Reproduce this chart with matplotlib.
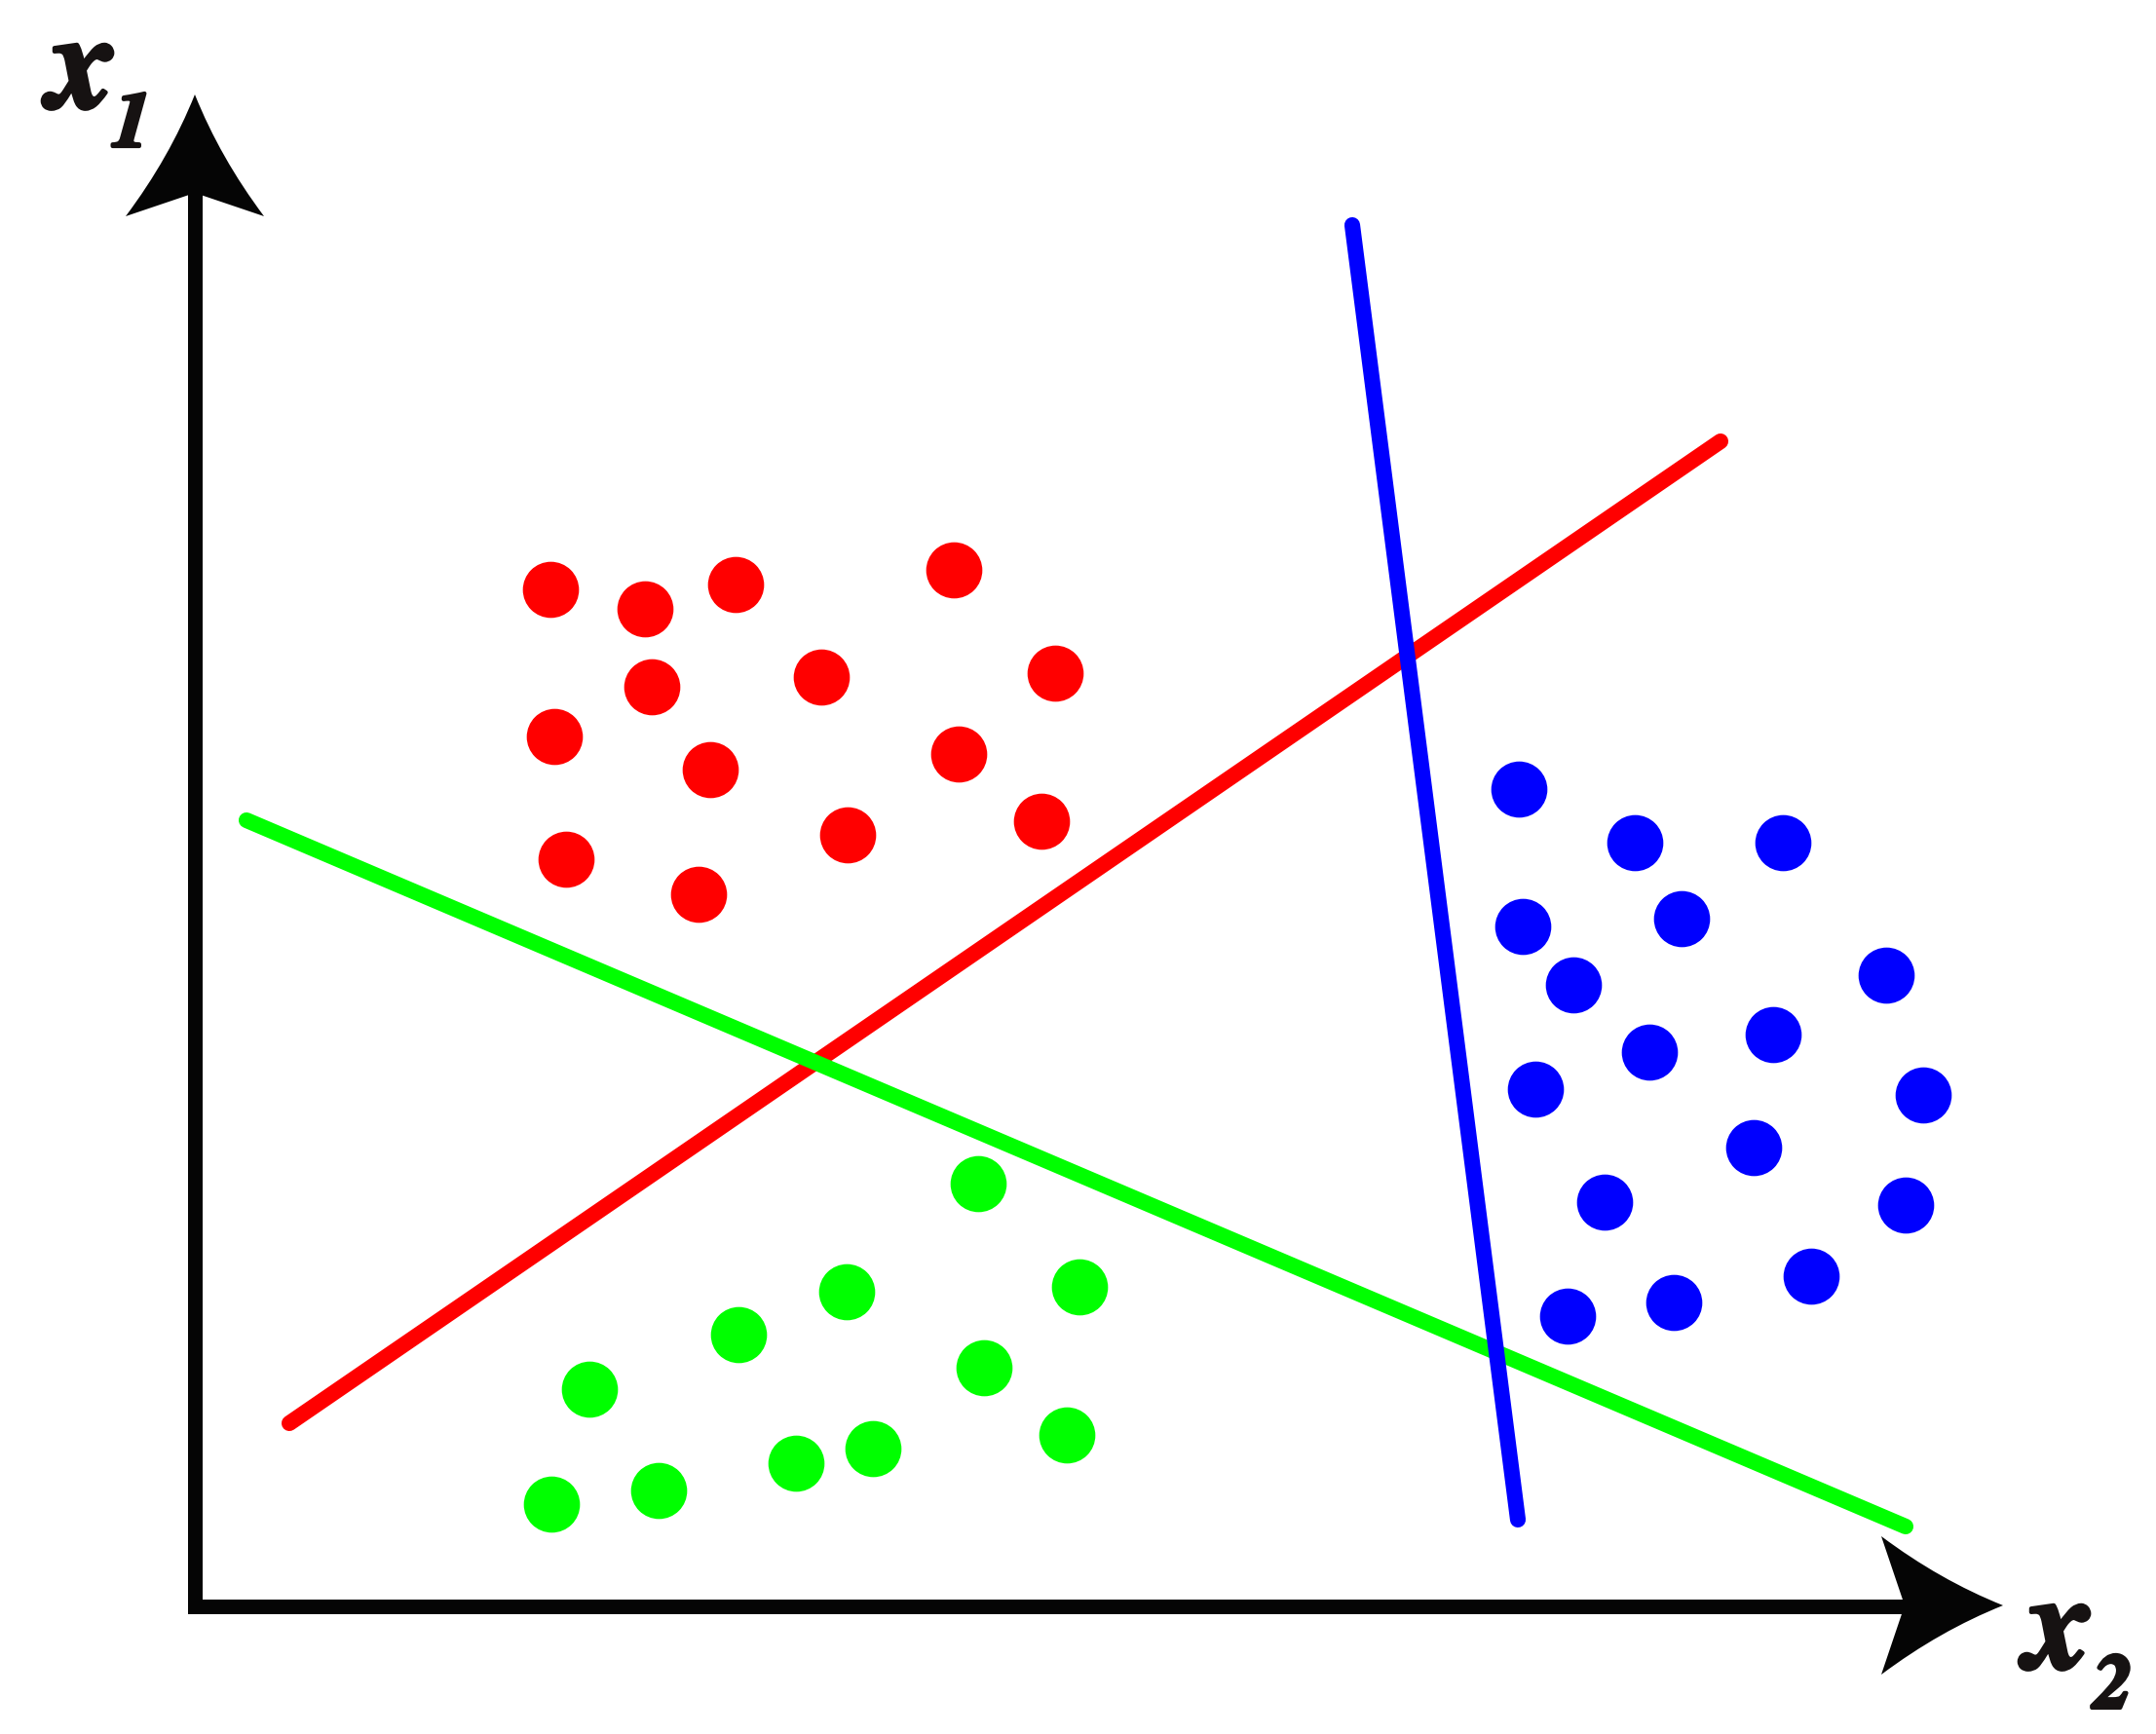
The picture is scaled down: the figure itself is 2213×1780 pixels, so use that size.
import matplotlib
matplotlib.use("Agg")
import matplotlib.pyplot as plt
import matplotlib.patheffects as pe
import numpy as np
from matplotlib.path import Path
from matplotlib.patches import PathPatch

# point positions (pixel space, y goes down)
red_x = [565, 662, 755, 979, 669, 843, 1083, 569, 729, 984, 581, 870, 1069, 717]
red_y = [606, 626, 601, 586, 706, 696, 692, 757, 791, 775, 883, 858, 844, 919]

blue_x = [1559, 1678, 1830, 1563, 1726, 1615, 1936, 1693, 1820, 1576, 1974, 1800, 1647, 1956, 1859, 1609, 1718]
blue_y = [811, 866, 866, 952, 944, 1012, 1002, 1081, 1063, 1119, 1125, 1179, 1235, 1238, 1311, 1352, 1338]

green_x = [1004, 869, 1108, 758, 1010, 605, 896, 1095, 817, 676, 566]
green_y = [1216, 1327, 1322, 1371, 1405, 1427, 1488, 1474, 1503, 1531, 1545]

# the three separating lines (start, end)
red_line_x = [297, 1766]
red_line_y = [1462, 454]
green_line_x = [253, 1956]
green_line_y = [843, 1568]
blue_line_x = [1388, 1558]
blue_line_y = [232, 1561]

W, H = 2213, 1781
fig = plt.figure(figsize=(W / 100, H / 100), dpi=100)
ax = fig.add_axes([0, 0, 1, 1])
ax.set_xlim(0, W)
ax.set_ylim(H, 0)
ax.axis("off")

ms = 41.5  # dot diameter in points (~58 px)
ax.plot(red_x, red_y, "o", color="#ff0000", ms=ms, mew=0)
ax.plot(blue_x, blue_y, "o", color="#0000ff", ms=ms, mew=0)
ax.plot(green_x, green_y, "o", color="#00ff00", ms=ms, mew=0)

lw = 11.6
ax.plot(red_line_x, red_line_y, color="#ff0000", lw=lw, solid_capstyle="round")
ax.plot(green_line_x, green_line_y, color="#00ff00", lw=lw, solid_capstyle="round")
ax.plot(blue_line_x, blue_line_y, color="#0000ff", lw=lw, solid_capstyle="round")

# axes: one polyline for both shafts
ax.plot([200, 200, 1962], [192, 1650, 1650], color="#050505", lw=10.8,
        solid_joinstyle="miter", solid_capstyle="butt")


def arrow_head(tip, direction):
    # head with curved sides, defined pointing along +u, v sideways
    L, hw, notch = 125.0, 71.0, 101.0
    pts = [(0, 0), (65, 26), (L, hw), (notch, 0), (L, -hw), (65, -26), (0, 0)]
    codes = [Path.MOVETO, Path.CURVE3, Path.CURVE3, Path.LINETO, Path.LINETO, Path.CURVE3, Path.CURVE3]
    u = np.array(direction, dtype=float)
    v = np.array([-u[1], u[0]])
    verts = [np.array(tip) - p[0] * u + p[1] * v for p in pts]
    return PathPatch(Path(verts, codes), facecolor="#050505", edgecolor="none")


ax.add_patch(arrow_head((200, 98), (0, -1)))
ax.add_patch(arrow_head((2056, 1649), (1, 0)))

# axis labels (FreeSerif bold italic is the Times-like one here), stroked to look heavier
ink = "#161212"
lab = dict(family="FreeSerif", style="italic", weight="bold", color=ink)
thick = [pe.withStroke(linewidth=3, foreground=ink)]
ax.text(81, 111, "x", fontsize=100, ha="center", va="baseline", path_effects=thick, **lab)
ax.text(135, 151, "1", fontsize=57, ha="center", va="baseline", path_effects=thick, **lab)
ax.text(2110, 1713, "x", fontsize=100, ha="center", va="baseline", path_effects=thick, **lab)
ax.text(2166, 1754, "2", fontsize=57, ha="center", va="baseline", path_effects=thick, **lab)

fig.savefig("out.png", dpi=100, facecolor="white")
